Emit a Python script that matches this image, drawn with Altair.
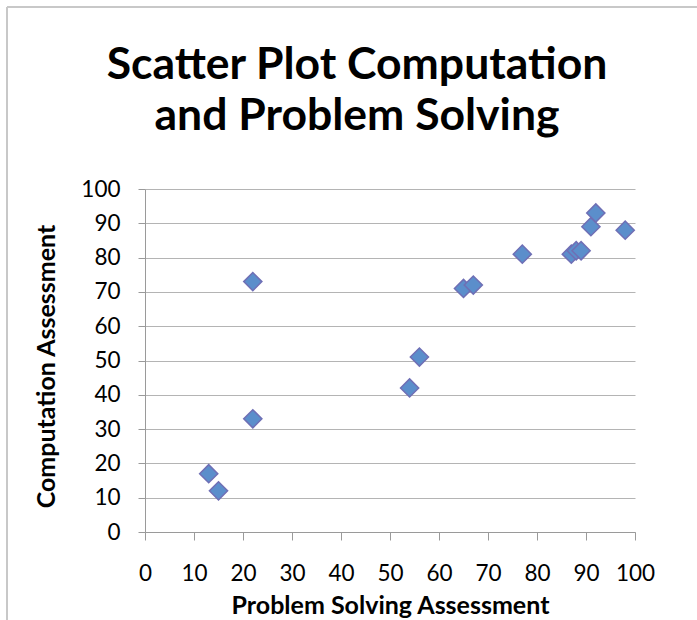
import altair as alt
import pandas as pd

# Data
problem_solving = [13, 15, 22, 22, 54, 56, 65, 67, 77, 87, 88, 89, 91, 92, 98]
computation = [17, 12, 33, 73, 42, 51, 71, 72, 81, 81, 82, 82, 89, 93, 88]
x_ticks = [0, 10, 20, 30, 40, 50, 60, 70, 80, 90, 100]
y_ticks = [0, 10, 20, 30, 40, 50, 60, 70, 80, 90, 100]
title_lines = ["Scatter Plot Computation", "and Problem Solving"]
x_title = "Problem Solving Assessment"
y_title = "Computation Assessment"

df = pd.DataFrame({"ps": problem_solving, "comp": computation})
one = pd.DataFrame({"a": [0]})

FONT = "Lato"
AXIS_GRAY = "#9a9a9a"
GRID_GRAY = "#b4b4b4"

points = alt.Chart(df).mark_point(
    shape="diamond", filled=True, size=330, color="#5B8ECB",
    stroke="#6F6FB5", strokeWidth=1.5, opacity=1
).encode(
    x=alt.X("ps:Q",
            scale=alt.Scale(domain=[0, 100], nice=False),
            axis=alt.Axis(values=x_ticks, title=x_title, grid=False,
                          tickSize=8, tickColor=AXIS_GRAY, domainColor=AXIS_GRAY,
                          labelFont=FONT, labelFontSize=22.5, labelColor="black",
                          labelPadding=22, labelFlush=False,
                          titleFont=FONT, titleFontSize=25, titleFontWeight="bold",
                          titleColor="black", titleY=81, titleBaseline="alphabetic")),
    y=alt.Y("comp:Q",
            scale=alt.Scale(domain=[0, 100], nice=False),
            axis=alt.Axis(values=y_ticks, title=y_title, grid=True,
                          gridColor=GRID_GRAY, gridWidth=1,
                          tickSize=7, tickColor=AXIS_GRAY, domainColor=AXIS_GRAY,
                          labelFont=FONT, labelFontSize=22.5, labelColor="black",
                          labelPadding=18, labelFlush=False,
                          titleFont=FONT, titleFontSize=25, titleFontWeight="bold",
                          titleColor="black", titleX=-99, titleY=177,
                          titleAngle=270, titleAlign="center", titleBaseline="middle")),
)

frame_left = alt.Chart(one).mark_rule(color="#c8c8c8", strokeWidth=2, clip=False).encode(
    x=alt.value(-138), y=alt.value(-182), y2=alt.value(431))
frame_top = alt.Chart(one).mark_rule(color="#c8c8c8", strokeWidth=2, clip=False).encode(
    x=alt.value(-138), x2=alt.value(552), y=alt.value(-182))

title = alt.Chart(one).mark_text(
    font=FONT, fontSize=44.5, fontWeight="bold", color="black",
    align="center", baseline="alphabetic", lineHeight=51, clip=False
).encode(x=alt.value(212), y=alt.value(-110), text=alt.value(title_lines))

chart = alt.layer(frame_left, frame_top, title, points).properties(
    width=490, height=343,
    autosize=alt.AutoSizeParams(type="none"),
    padding={"left": 145, "top": 189, "right": 62, "bottom": 88},
    background="white",
).configure_view(stroke=None)

chart.save("out.html", embed_options={"renderer": "svg", "actions": False})
